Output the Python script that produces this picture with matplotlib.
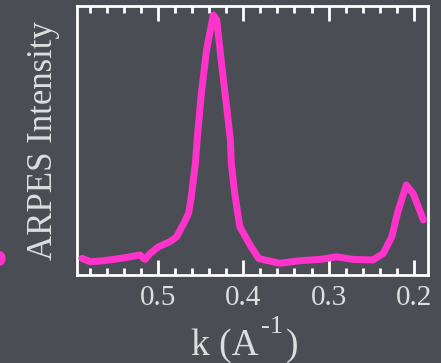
"""
ARPES momentum distribution curve on a dark slide background
"""

import numpy as np
import matplotlib
matplotlib.use('Agg')
import matplotlib.pyplot as plt
from matplotlib.patches import Ellipse
from matplotlib.ticker import MultipleLocator

# Momentum (1/A) and normalised intensity along the cut
k = [0.589, 0.579, 0.567, 0.552, 0.536, 0.521, 0.515, 0.509, 0.499, 0.486,
     0.478, 0.470, 0.464, 0.461, 0.456, 0.454, 0.449, 0.443, 0.435, 0.431,
     0.425, 0.419, 0.415, 0.414, 0.410, 0.404, 0.392, 0.382, 0.375, 0.357,
     0.334, 0.310, 0.291, 0.271, 0.248, 0.236, 0.226, 0.219, 0.209, 0.201,
     0.189]
intensity = [0.064, 0.051, 0.054, 0.060, 0.068, 0.077, 0.060, 0.083, 0.109, 0.128,
             0.147, 0.196, 0.237, 0.296, 0.430, 0.519, 0.700, 0.865, 1.000, 0.981,
             0.801, 0.635, 0.519, 0.431, 0.314, 0.186, 0.115, 0.064, 0.058, 0.045,
             0.055, 0.060, 0.070, 0.060, 0.058, 0.083, 0.147, 0.242, 0.346, 0.314,
             0.212]
k_ticks = [0.5, 0.4, 0.3, 0.2]
k_tick_labels = ['0.5', '0.4', '0.3', '0.2']

# Slide colours
bg = '#4b4d55'
fg = '#ffffff'
txt = '#dedede'
pink = '#ff33cc'
serif = 'Liberation Serif'

W, H = 441, 363
fig = plt.figure(figsize=(W / 100, H / 100), dpi=100, facecolor=bg)
ax = fig.add_axes([0.174, 0.2424, 0.7965, 0.7397])
ax.set_facecolor(bg)

ax.plot(k, intensity, color=pink, lw=5, solid_capstyle='round',
        solid_joinstyle='round', zorder=3)

ax.set_xlim(0.595, 0.1836)
ax.set_ylim(0, 1.033)

# Frame and ticks
for s in ax.spines.values():
    s.set_color(fg)
    s.set_linewidth(2.0)
ax.xaxis.set_minor_locator(MultipleLocator(0.02))
ax.set_xticks(k_ticks)
ax.set_xticklabels(k_tick_labels, fontfamily=serif, fontsize=21, color=txt)
ax.tick_params(axis='x', which='both', direction='in', top=True, bottom=True,
               color=fg, width=2.0)
ax.tick_params(axis='x', which='major', length=11, pad=7)
ax.tick_params(axis='x', which='minor', length=5)
ax.tick_params(axis='y', which='both', left=False, right=False, labelleft=False)

ax.set_ylabel('ARPES Intensity', fontfamily=serif, fontsize=25, color=txt,
              labelpad=12)

# x label built in pieces so the exponent keeps a plain hyphen
def px(x, y):
    return x / W, 1 - y / H

fig.text(*px(191, 355), 'k (A', fontfamily=serif, fontsize=27, color=txt,
         ha='left', va='baseline')
fig.text(*px(261, 333), '-1', fontfamily=serif, fontsize=19, color=txt,
         ha='left', va='baseline')
fig.text(*px(286, 355), ')', fontfamily=serif, fontsize=27, color=txt,
         ha='left', va='baseline')

# Edge of a bullet cut off at the left border
fig.patches.append(Ellipse((0.0, 0.288), 0.022, 0.036, color=pink,
                           transform=fig.transFigure, figure=fig))

fig.savefig('out.png', dpi=100, facecolor=bg)
